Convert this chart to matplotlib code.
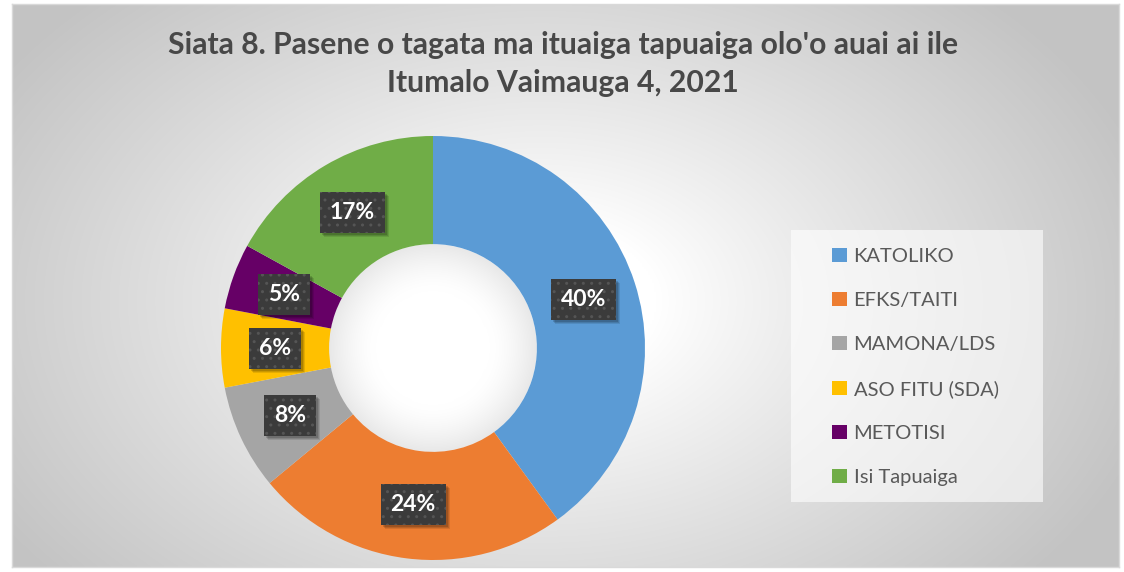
import numpy as np
import matplotlib
matplotlib.use("Agg")
import matplotlib.pyplot as plt
from matplotlib.patches import Rectangle, Patch, Circle
from matplotlib.transforms import IdentityTransform

categories = ["KATOLIKO", "EFKS/TAITI", "MAMONA/LDS", "ASO FITU (SDA)", "METOTISI", "Isi Tapuaiga"]
values = [40, 24, 8, 6, 5, 17]
colors = ["#5B9BD5", "#ED7D31", "#A5A5A5", "#FFC000", "#660066", "#70AD47"]
title_lines = ["Siata 8. Pasene o tagata ma ituaiga tapuaiga olo'o auai ai ile",
               "Itumalo Vaimauga 4, 2021"]

FONT = ["Lato", "DejaVu Sans"]
W, H = 1124, 572
fig = plt.figure(figsize=(W / 100, H / 100), dpi=100)
fig.patch.set_facecolor("white")

# background panel with radial gradient
px0, py0, pw, ph = 12, 4, 1107, 563
bg = fig.add_axes([px0 / W, (H - py0 - ph) / H, pw / W, ph / H])
yy, xx = np.mgrid[0:ph // 2, 0:pw // 2] * 2.0
xx = xx + px0
yy = yy + py0
cx, cy = 540, 300
d = np.sqrt(((xx - cx) / 640.0) ** 2 + ((yy - cy) / 430.0) ** 2)
t = np.clip((d - 0.18) / (1.0 - 0.18), 0, 1)
g = 1.0 - (1.0 - 0.765) * t ** 0.9
img = np.dstack([g, g, g])
bg.imshow(img, aspect="auto", extent=[0, 1, 0, 1], origin="upper", interpolation="bilinear")
bg.set_xlim(0, 1)
bg.set_ylim(0, 1)
bg.set_xticks([])
bg.set_yticks([])
for s in bg.spines.values():
    s.set_color("#d9d9d9")
    s.set_linewidth(1)

# donut
cxp, cyp, R = 433, 348, 212
ax = fig.add_axes([(cxp - R) / W, (H - cyp - R) / H, 2 * R / W, 2 * R / H])
ax.set_facecolor("none")
inner = 0.49
wedges, texts, autotexts = ax.pie(
    values, colors=colors, startangle=90, counterclock=False, radius=1,
    wedgeprops=dict(width=1 - inner, edgecolor="none", linewidth=0),
    autopct=lambda p: f"{p:.0f}%", pctdistance=0.745,
    textprops=dict(color="white", fontsize=16.5, fontweight="bold", family=FONT, zorder=5),
)
# hole shading
hy, hx = np.mgrid[-1:1:200j, -1:1:200j]
hr = np.sqrt(hx ** 2 + hy ** 2)
hg = 1.0 - 0.09 * np.clip((hr - 0.55) / 0.45, 0, 1) ** 1.5
him = ax.imshow(np.dstack([hg, hg, hg]), extent=[-inner, inner, -inner, inner], zorder=0.5,
                interpolation="bilinear")
hole = Circle((0, 0), inner, transform=ax.transData)
him.set_clip_path(hole)

ax.set_xlim(-1, 1)
ax.set_ylim(-1, 1)
ax.set_aspect("equal")
ax.axis("off")

# label boxes sized from the rendered text
fig.canvas.draw()
for tx in autotexts:
    bb = tx.get_window_extent()
    bw, bh = bb.width + 20, 41
    x0 = (bb.x0 + bb.x1) / 2 - bw / 2
    y0 = (bb.y0 + bb.y1) / 2 - bh / 2
    for k, a in [(4, 0.10), (3, 0.12), (2, 0.15)]:
        ax.add_patch(Rectangle((x0 + k, y0 - k), bw, bh, transform=IdentityTransform(),
                               facecolor="black", alpha=a, edgecolor="none", zorder=3, clip_on=False))
    ax.add_patch(Rectangle((x0, y0), bw, bh, transform=IdentityTransform(), facecolor="#3b3b3b",
                           edgecolor="#555555", hatch="..", linewidth=0, zorder=4, clip_on=False))

# title
for line, yc in zip(title_lines, [45, 83]):
    fig.text(563 / W, 1 - yc / H, line, ha="center", va="center", fontsize=21.7,
             fontweight="bold", color="#484848", family=FONT)

# legend box
fig.patches.append(Rectangle((791 / W, 1 - 502 / H), 252 / W, 272 / H, transform=fig.transFigure,
                             facecolor="white", alpha=0.6, edgecolor="none", zorder=1))
handles = [Patch(facecolor=c, edgecolor="none") for c in colors]
leg = fig.legend(handles, categories, loc="center left", bbox_to_anchor=(822 / W, 1 - 367 / H),
                 frameon=False, labelspacing=1.33, handlelength=0.72, handleheight=0.72,
                 handletextpad=0.35, borderpad=0, prop=dict(family=FONT, size=14.5))
for t in leg.get_texts():
    t.set_color("#595959")

fig.savefig("out.png", dpi=100, facecolor="white")
